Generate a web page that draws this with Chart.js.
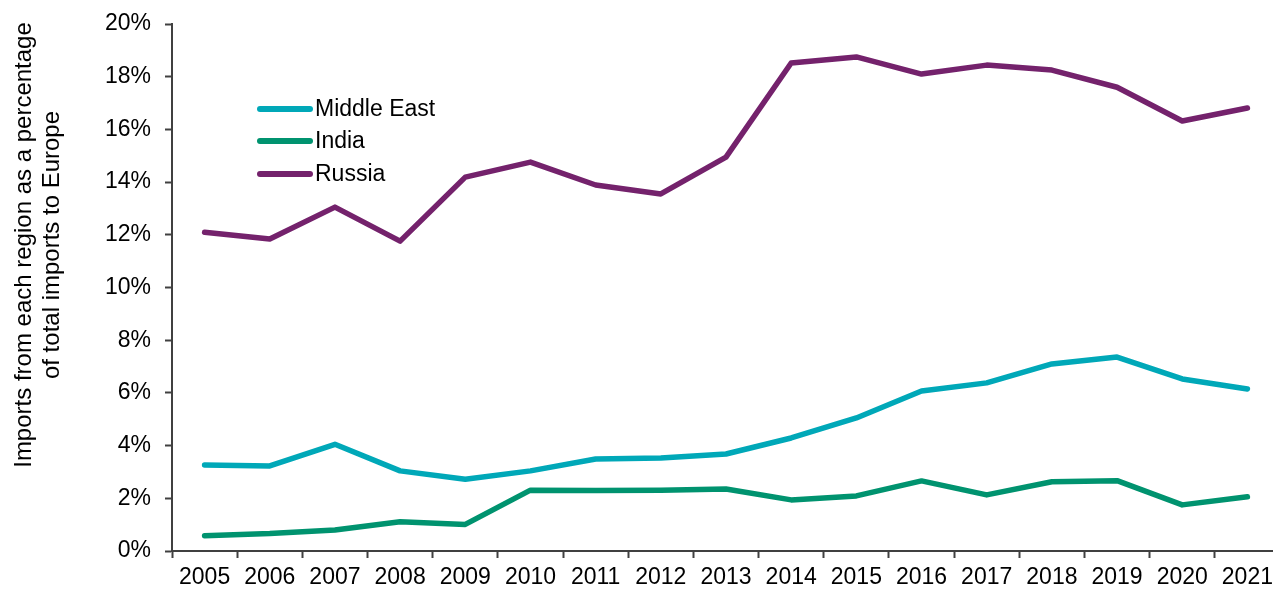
<!DOCTYPE html>
<html>
<head>
<meta charset="utf-8">
<script src="https://cdn.jsdelivr.net/npm/chart.js@4.4.1/dist/chart.umd.min.js"></script>
<style>
  html, body { margin: 0; padding: 0; background: #fff; overflow: hidden; }
  #wrap { width: 1290px; height: 590px; }
</style>
</head>
<body>
<div id="wrap"><canvas id="graph_imports"></canvas></div>
<script>
// Imports to Europe by region, % of total
var annees = ['2005', '2006', '2007', '2008', '2009', '2010', '2011', '2012', '2013',
              '2014', '2015', '2016', '2017', '2018', '2019', '2020', '2021'];
var moyen_orient = [3.26, 3.23, 4.05, 3.04, 2.72, 3.04, 3.49, 3.53, 3.68,
                    4.29, 5.05, 6.07, 6.38, 7.10, 7.36, 6.53, 6.15];
var inde = [0.58, 0.66, 0.80, 1.11, 1.01, 2.31, 2.30, 2.31, 2.35,
            1.94, 2.09, 2.66, 2.13, 2.63, 2.67, 1.75, 2.06];
var russie = [12.10, 11.84, 13.05, 11.76, 14.19, 14.76, 13.89, 13.55, 14.95,
              18.52, 18.75, 18.10, 18.44, 18.25, 17.60, 16.32, 16.81];
var ticks_y = [0, 2, 4, 6, 8, 10, 12, 14, 16, 18, 20];

var police = '"Liberation Sans", Arial, sans-serif';
var gris_axe = '#404040';

// legend drawn inside the plot, top left
var legendeInterne = {
    id: 'legendeInterne',
    afterDraw: function(chart) {
        var ctx = chart.ctx;
        ctx.save();
        ctx.font = '23px ' + police;
        ctx.textBaseline = 'middle';
        var lignes = [109, 141, 174];
        chart.data.datasets.forEach(function(ds, i) {
            ctx.strokeStyle = ds.borderColor;
            ctx.lineWidth = 6;
            ctx.lineCap = 'round';
            ctx.beginPath();
            ctx.moveTo(260, lignes[i]);
            ctx.lineTo(310, lignes[i]);
            ctx.stroke();
            ctx.fillStyle = '#000';
            ctx.fillText(ds.label, 315, lignes[i] + 1);
        });
        ctx.restore();
    }
};

// two-line y axis title
var titreAxe = {
    id: 'titreAxe',
    afterDraw: function(chart) {
        var ctx = chart.ctx;
        ctx.save();
        ctx.font = '24px ' + police;
        ctx.fillStyle = '#000';
        ctx.textAlign = 'center';
        ctx.textBaseline = 'middle';
        ctx.translate(0, 245);
        ctx.rotate(-Math.PI / 2);
        ctx.fillText('Imports from each region as a percentage', 0, 24);
        ctx.fillText('of total imports to Europe', 0, 52);
        ctx.restore();
    }
};

var getElemChart = document.getElementById('graph_imports').getContext('2d');
var myLineChart = new Chart(getElemChart, {
    type: 'line',
    data: {
        labels: annees,
        datasets: [
            {
                label: 'Middle East',
                data: moyen_orient,
                borderColor: '#00A8B8',
                backgroundColor: '#00A8B8'
            },
            {
                label: 'India',
                data: inde,
                borderColor: '#00936F',
                backgroundColor: '#00936F'
            },
            {
                label: 'Russia',
                data: russie,
                borderColor: '#74226C',
                backgroundColor: '#74226C'
            }
        ]
    },
    options: {
        responsive: true,
        maintainAspectRatio: false,
        animation: false,
        layout: { padding: { top: 24, left: 0, right: 10, bottom: 0 } },
        elements: {
            line: { borderWidth: 5.5, tension: 0, borderJoinStyle: 'round', borderCapStyle: 'round' },
            point: { radius: 0, hoverRadius: 0 }
        },
        plugins: {
            legend: { display: false },
            tooltip: { enabled: false }
        },
        scales: {
            x: {
                offset: true,
                afterFit: function(scale) {
                    scale.height = 39;
                    scale.paddingLeft = 0;
                    scale.paddingRight = 0;
                },
                grid: {
                    offset: true,
                    drawOnChartArea: false,
                    tickLength: 7,
                    tickWidth: 2,
                    tickColor: gris_axe
                },
                border: { color: gris_axe, width: 2 },
                ticks: {
                    color: '#000',
                    padding: 6,
                    maxRotation: 0,
                    autoSkip: false,
                    font: { family: police, size: 23 }
                }
            },
            y: {
                min: 0,
                max: 20,
                afterFit: function(scale) {
                    scale.width = 172;
                    scale.paddingTop = 0;
                    scale.paddingBottom = 0;
                },
                afterBuildTicks: function(scale) {
                    scale.ticks = ticks_y.map(function(v) { return { value: v }; });
                },
                grid: {
                    drawOnChartArea: false,
                    tickLength: 7,
                    tickWidth: 2,
                    tickColor: gris_axe
                },
                border: { color: gris_axe, width: 2 },
                ticks: {
                    color: '#000',
                    padding: 14,
                    font: { family: police, size: 23 },
                    callback: function(v) { return v + '%'; }
                }
            }
        }
    },
    plugins: [legendeInterne, titreAxe]
});
</script>
</body>
</html>
